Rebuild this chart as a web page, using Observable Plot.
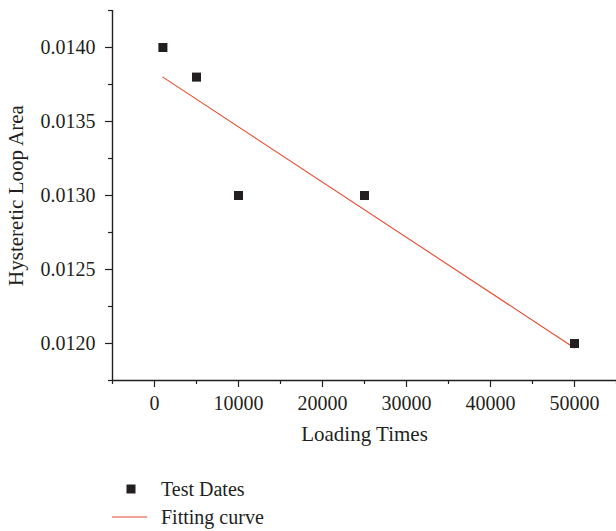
<!DOCTYPE html>
<html>
<head>
<meta charset="utf-8">
<script src="https://cdn.jsdelivr.net/npm/d3@7"></script>
<script src="https://cdn.jsdelivr.net/npm/@observablehq/plot@0.6"></script>
<style>
  html, body { margin: 0; padding: 0; background: #fff; }
  body { width: 616px; height: 531px; overflow: hidden; font-family: "Liberation Serif", "DejaVu Serif", serif; color: #231f20; }
  #legend { position: absolute; left: 0; top: 475px; font-size: 20px; }
  .row { display: flex; align-items: center; height: 28px; }
  .sw { width: 48px; height: 20px; margin-left: 112px; }
  .lab { margin-left: 1px; }
</style>
</head>
<body>
<div id="chart"></div>
<div id="legend"></div>
<script>
// Data
const loadingTimes = [1000, 5000, 10000, 25000, 50000];
const loopArea = [0.0140, 0.0138, 0.0130, 0.0130, 0.0120];
const fitX = [1000, 50000];
const fitY = [0.01380, 0.01197];
const xTicks = [0, 10000, 20000, 30000, 40000, 50000];
const xMinor = [-5000, 5000, 15000, 25000, 35000, 45000, 55000];
const yTicks = [0.0120, 0.0125, 0.0130, 0.0135, 0.0140];
const yMinor = [0.01175, 0.01225, 0.01275, 0.01325, 0.01375, 0.01425];
const seriesNames = ["Test Dates", "Fitting curve"];

const ink = "#231f20";
const red = "#e8482c";

const points = loadingTimes.map((x, i) => ({x, y: loopArea[i]}));
const fit = fitX.map((x, i) => ({x, y: fitY[i]}));

const chart = Plot.plot({
  width: 616,
  height: 460,
  marginLeft: 112,
  marginRight: 0,
  marginTop: 10,
  marginBottom: 80,
  style: {fontFamily: "Liberation Serif, DejaVu Serif, serif", fontSize: "20px", color: ink, background: "#fff", overflow: "visible"},
  x: {domain: [-5000, 55000]},
  y: {domain: [0.01175, 0.01425]},
  marks: [
    Plot.axisX({ticks: xMinor, tickSize: 4, text: null, label: null, stroke: ink, strokeWidth: 1.2}),
    Plot.axisX({ticks: xTicks, tickSize: 7, tickPadding: 8, tickFormat: d => String(d), stroke: ink, strokeWidth: 1.2, fill: ink, label: null, fontSize: 20}),
    Plot.axisY({ticks: yMinor, tickSize: 4, text: null, label: null, stroke: ink, strokeWidth: 1.2}),
    Plot.axisY({ticks: yTicks, tickSize: 7, tickPadding: 10, tickFormat: d3.format(".4f"), stroke: ink, strokeWidth: 1.2, fill: ink, label: null, fontSize: 20}),
    Plot.text(["Loading Times"], {frameAnchor: "bottom", dy: 60, fill: ink, fontSize: 21}),
    Plot.text(["Hysteretic Loop Area"], {frameAnchor: "left", textAnchor: "middle", dx: -96, rotate: -90, fill: ink, fontSize: 21}),
    Plot.ruleX([-5000], {stroke: ink, strokeWidth: 1.4}),
    Plot.ruleY([0.01175], {stroke: ink, strokeWidth: 1.4}),
    Plot.line(fit, {x: "x", y: "y", stroke: red, strokeWidth: 1.1}),
    Plot.dot(points, {x: "x", y: "y", symbol: "square", r: 5.1, fill: ink, stroke: "none"})
  ]
});
document.getElementById("chart").appendChild(chart);

const legend = document.getElementById("legend");
legend.innerHTML =
  `<div class="row"><svg class="sw" viewBox="0 0 48 20"><rect x="14.5" y="5.5" width="9" height="9" fill="${ink}"/></svg><span class="lab">${seriesNames[0]}</span></div>` +
  `<div class="row"><svg class="sw" viewBox="0 0 48 20"><line x1="0" x2="35" y1="10" y2="10" stroke="${red}" stroke-width="1.2"/></svg><span class="lab">${seriesNames[1]}</span></div>`;
</script>
</body>
</html>
